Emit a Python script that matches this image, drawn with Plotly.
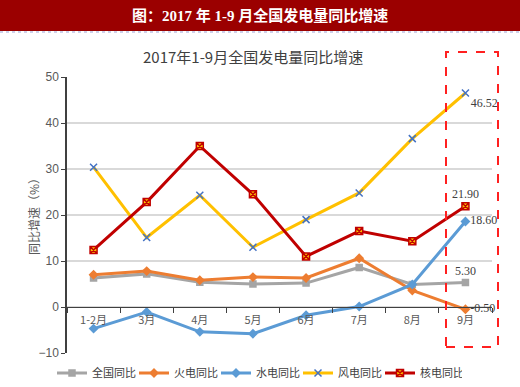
import plotly.graph_objects as go

months = ["1-2月", "3月", "4月", "5月", "6月", "7月", "8月", "9月"]
national = [6.3, 7.2, 5.4, 5.0, 5.2, 8.6, 4.9, 5.3]
thermal = [7.0, 7.8, 5.8, 6.5, 6.3, 10.6, 3.6, -0.5]
hydro = [-4.7, -1.1, -5.4, -5.8, -1.8, 0.1, 4.9, 18.6]
wind = [30.4, 15.1, 24.3, 13.0, 19.0, 24.8, 36.6, 46.52]
nuclear = [12.4, 22.8, 35.0, 24.5, 11.0, 16.5, 14.3, 21.9]

names = ["全国同比", "火电同比", "水电同比", "风电同比", "核电同比"]
last_labels = ["5.30", "-0.50", "18.60", "46.52", "21.90"]

W, H = 520, 387
L, R, T, B = 67, 28, 77, 34
pw, ph = W - L - R, H - T - B


def px(x):
    return (x - L) / pw


def py(y):
    return (H - B - y) / ph


CJK = "Noto Sans CJK SC"
fig = go.Figure()

series = [national, thermal, hydro, wind, nuclear]
colors = ["#A5A5A5", "#ED7D31", "#5B9BD5", "#FFC000", "#C00000"]
symbols = ["square", "diamond", "diamond", "x-thin-open", "square-x"]
mcolors = ["#A5A5A5", "#ED7D31", "#5B9BD5", "#4472C4", "#FFC000"]
mline = ["#A5A5A5", "#ED7D31", "#5B9BD5", "#4472C4", "#C00000"]
msizes = [6, 6, 6, 7, 7]
tpos = ["top center", "middle right", "middle right", "bottom right", "top center"]

for name, vals, c, s, mc, ml, ms, lab, tp in zip(names, series, colors, symbols, mcolors, mline, msizes, last_labels, tpos):
    txt = [""] * (len(vals) - 1) + [lab]
    fig.add_trace(go.Scatter(
        x=months, y=vals, name=name, mode="lines+markers+text",
        line=dict(color=c, width=3),
        marker=dict(symbol=s, size=ms, color=mc, line=dict(color=ml, width=1.5)),
        text=txt, textposition=tp,
        textfont=dict(family="Liberation Serif", size=12, color="#404040"),
        cliponaxis=False,
    ))

fig.update_layout(
    width=W, height=H,
    margin=dict(l=L, r=R, t=T, b=B, autoexpand=False),
    paper_bgcolor="white", plot_bgcolor="white",
    showlegend=True,
    legend=dict(orientation="h", x=px(52), y=py(373), yanchor="middle", xanchor="left",
                font=dict(family=CJK, size=11, color="#404040"),
                itemwidth=30, entrywidth=37, entrywidthmode="pixels",
                bgcolor="rgba(0,0,0,0)"),
    xaxis=dict(type="category", anchor="free", position=1/6,
               showline=True, linecolor="#404040", linewidth=1,
               ticks="outside", tickson="boundaries", ticklen=5, tickcolor="#404040",
               showgrid=False, range=[-0.5, 7.5], ticklabelstandoff=3,
               tickfont=dict(family=CJK, size=11, color="#595959")),
    yaxis=dict(range=[-10, 50], dtick=10, showline=True, linecolor="#404040", linewidth=1.5,
               ticks="outside", ticklen=4, tickcolor="#404040",
               showgrid=True, gridcolor="#D9D9D9", gridwidth=1.5, zeroline=False,
               tickfont=dict(family="Liberation Sans", size=12, color="#595959")),
)

# y axis title
fig.add_annotation(xref="paper", yref="paper", x=px(33), y=py(214), showarrow=False,
                   xanchor="center", yanchor="middle",
                   text="同比增速（%）", textangle=-90,
                   font=dict(family=CJK, size=12, color="#595959"))
# banner
fig.add_shape(type="rect", xref="paper", yref="paper", x0=px(0), x1=px(W), y0=py(31), y1=py(0),
              fillcolor="#9B0000", line=dict(width=0), layer="below")
fig.add_shape(type="line", xref="paper", yref="paper", x0=px(0), x1=px(W), y0=py(32), y1=py(32),
              line=dict(color="#9DA3D6", width=1, dash="dot"))
fig.add_annotation(xref="paper", yref="paper", x=px(260), y=py(16), showarrow=False,
                   xanchor="center", yanchor="middle",
                   text="<b>图：2017 年 1-9 月全国发电量同比增速</b>",
                   font=dict(family="Liberation Serif, " + CJK, size=15, color="white"))
fig.add_annotation(xref="paper", yref="paper", x=px(253), y=py(57), showarrow=False,
                   xanchor="center", yanchor="middle",
                   text="2017年1-9月全国发电量同比增速",
                   font=dict(family=CJK, size=15, color="#404040"))
# highlight box
fig.add_shape(type="rect", xref="paper", yref="paper", x0=px(446), x1=px(498), y0=py(347), y1=py(52),
              line=dict(color="#FF2020", width=2, dash="dash"), fillcolor="rgba(0,0,0,0)")

fig.write_html("out.html", config={"displayModeBar": False},
               post_script="document.body.style.margin='0';")
